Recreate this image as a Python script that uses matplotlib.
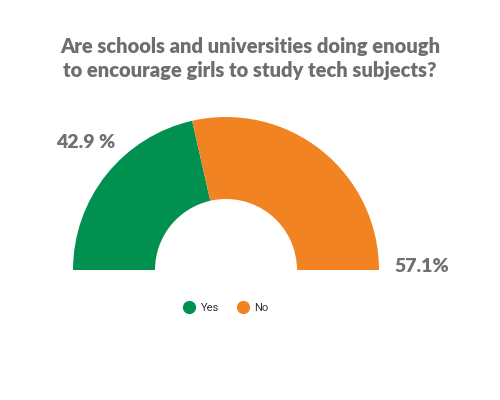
import matplotlib.pyplot as plt
from matplotlib.lines import Line2D

# data
labels = ['Yes', 'No']
values = [42.9, 57.1]
value_texts = ['42.9 %', '57.1%']
colors = ['#009150', '#f28322']

title = 'Are schools and universities doing enough\nto encourage girls to study tech subjects?'

plt.rcParams['font.family'] = ['Lato', 'DejaVu Sans']

fig = plt.figure(figsize=(5, 4), dpi=100)
ax = fig.add_axes([0, 0, 1, 1])

# semi donut: the hidden third wedge fills the lower half
wedges, _ = ax.pie(values + [sum(values)], colors=colors + ['none'],
                   startangle=180, counterclock=False,
                   center=(226, 130), radius=153,
                   wedgeprops=dict(width=82, linewidth=0))
ax.set_xlim(0, 500)
ax.set_ylim(0, 400)
ax.set_aspect('equal')
ax.axis('off')

fig.text(0.5, 0.853, title, ha='center', va='center', fontsize=14.5,
         fontweight='heavy', color='#6e6e6e', linespacing=1.3)

ax.text(86, 258, value_texts[0], ha='center', va='center', fontsize=14,
        fontweight='heavy', color='#707070')
ax.text(422, 134, value_texts[1], ha='center', va='center', fontsize=14,
        fontweight='heavy', color='#707070')

handles = [Line2D([], [], marker='o', linestyle='none', markersize=8.5,
                  markerfacecolor=c, markeredgecolor=c) for c in colors]
leg = fig.legend(handles, labels, loc='center', bbox_to_anchor=(0.449, 0.23),
                 ncol=2, frameon=False, handletextpad=0.25, handlelength=1.5,
                 columnspacing=1.4, prop={'family': 'Roboto', 'size': 8})
for t in leg.get_texts():
    t.set_color('#333333')

fig.savefig('out.png', dpi=100)
